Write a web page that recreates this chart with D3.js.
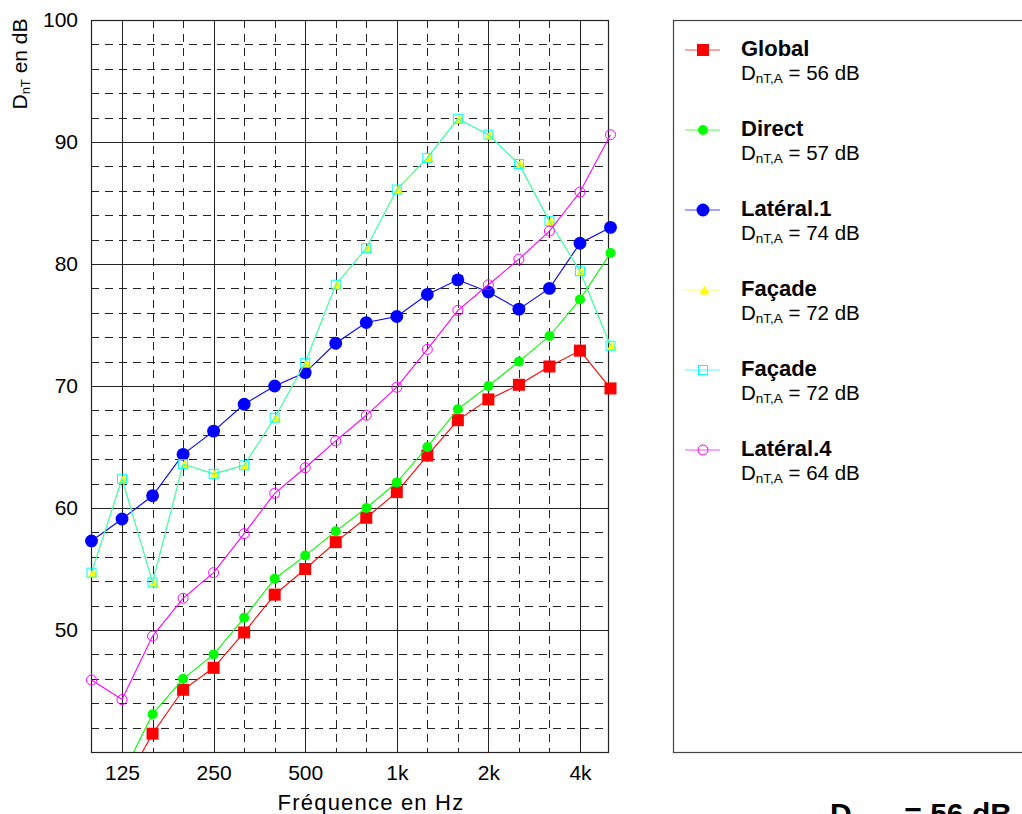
<!DOCTYPE html>
<html>
<head>
<meta charset="utf-8">
<script src="https://cdn.jsdelivr.net/npm/d3@7"></script>
<style>
    body { margin: 0; background: #fff; }
    svg { display: block; font-family: "Liberation Sans", Arial, sans-serif; }
</style>
</head>
<body>
<div id="chart"></div>
<script>
const width = 1022,
    height = 814
const margin = {
    top: 20,
    right: 414,
    bottom: 62,
    left: 91
}

// bandes de tiers d'octave
const frequencies = [100, 125, 160, 200, 250, 315, 400, 500, 630, 800, 1000, 1250, 1600, 2000, 2500, 3150, 4000, 5000]
const octaveTicks = [125, 250, 500, 1000, 2000, 4000]
const octaveLabels = ['125', '250', '500', '1k', '2k', '4k']
const dbTicks = [50, 60, 70, 80, 90, 100]

const globalValues = [34.0, 37.0, 41.5, 45.1, 46.9, 49.8, 52.9, 55.0, 57.2, 59.2, 61.3, 64.3, 67.2, 68.9, 70.1, 71.6, 72.9, 69.8]
const directValues = [35.0, 38.1, 43.1, 46.0, 48.0, 51.0, 54.2, 56.1, 58.1, 60.0, 62.1, 65.0, 68.1, 70.0, 72.0, 74.1, 77.1, 80.9]
const lateral1Values = [57.3, 59.1, 61.0, 64.4, 66.3, 68.5, 70.0, 71.1, 73.5, 75.2, 75.7, 77.5, 78.7, 77.7, 76.3, 78.0, 81.7, 83.0]
const facadeValues = [54.7, 62.4, 53.9, 63.6, 62.8, 63.5, 67.4, 71.9, 78.3, 81.3, 86.1, 88.7, 91.9, 90.6, 88.2, 83.5, 79.4, 73.3]
const lateral4Values = [45.9, 44.3, 49.5, 52.6, 54.7, 57.9, 61.2, 63.3, 65.5, 67.6, 69.9, 73.0, 76.2, 78.3, 80.4, 82.7, 85.9, 90.6]

const seriesNames = ['Global', 'Direct', 'Latéral.1', 'Façade', 'Façade', 'Latéral.4']
const seriesDnTA = [56, 57, 74, 72, 72, 64]
const seriesColors = ['#ff0000', '#00ff00', '#0000ff', '#ffff00', '#00ffff', '#ff00ff']
const seriesValues = [globalValues, directValues, lateral1Values, facadeValues, facadeValues, lateral4Values]
const globalDnTA = 56

/**
 * initialisation
 */
const svg = d3.select('#chart')
    .append('svg')
    .attr('width', width)
    .attr('height', height)

const plotRight = 608
const axisX = d3.scalePoint()
    .domain(frequencies)
    .range([margin.left + 0.5, 610.5])

const axisY = d3.scaleLinear()
    .domain([40, 100])
    .range([height - margin.bottom, margin.top])

svg.append('clipPath').attr('id', 'plotClip')
    .append('rect')
    .attr('x', 0)
    .attr('y', margin.top)
    .attr('width', 660)
    .attr('height', axisY(40) - margin.top)

/**
 * grille
 */
const grid = svg.append('g')
    .attr('stroke', '#222')
    .attr('stroke-width', 1)

grid.selectAll('line.h')
    .data(d3.range(42, 100, 2))
    .enter().append('line')
    .attr('x1', margin.left)
    .attr('x2', plotRight)
    .attr('y1', d => Math.round(axisY(d)) + 0.5)
    .attr('y2', d => Math.round(axisY(d)) + 0.5)
    .attr('stroke-dasharray', d => d % 10 === 0 ? null : '8,6')

grid.selectAll('line.v')
    .data(frequencies.slice(1, -1))
    .enter().append('line')
    .attr('x1', d => Math.round(axisX(d)) + 0.5)
    .attr('x2', d => Math.round(axisX(d)) + 0.5)
    .attr('y1', margin.top)
    .attr('y2', axisY(40))
    .attr('stroke-dasharray', d => octaveTicks.includes(d) ? null : '8,6')

svg.append('rect')
    .attr('x', margin.left + 0.5)
    .attr('y', margin.top + 0.5)
    .attr('width', plotRight - margin.left)
    .attr('height', axisY(40) - margin.top)
    .attr('fill', 'none')
    .attr('stroke', '#222')
    .attr('stroke-width', 1.2)

/**
 * axes
 */
svg.append('g')
    .attr('transform', 'translate(' + margin.left + ',0)')
    .call(d3.axisLeft(axisY).tickValues(dbTicks).tickSize(0).tickPadding(13))
    .call(g => g.select('.domain').remove())
    .selectAll('text')
    .attr('font-size', 21)
    .attr('font-family', '"Liberation Sans", Arial, sans-serif')
    .attr('fill', '#000')

svg.append('g')
    .attr('transform', 'translate(0,' + axisY(40) + ')')
    .call(d3.axisBottom(axisX).tickValues(octaveTicks).tickSize(0).tickPadding(13)
        .tickFormat((d, i) => octaveLabels[i]))
    .call(g => g.select('.domain').remove())
    .selectAll('text')
    .attr('font-size', 21)
    .attr('font-family', '"Liberation Sans", Arial, sans-serif')
    .attr('fill', '#000')

svg.append('text')
    .attr('x', 371)
    .attr('y', 810)
    .attr('text-anchor', 'middle')
    .attr('font-size', 22)
    .attr('letter-spacing', 1.2)
    .text('Fréquence en Hz')

const yLabel = svg.append('text')
    .attr('transform', 'translate(27,64) rotate(-90)')
    .attr('text-anchor', 'middle')
    .attr('font-size', 21)
yLabel.append('tspan').text('D')
yLabel.append('tspan').attr('font-size', 13).attr('dy', 3).text('nT')
yLabel.append('tspan').attr('dy', -3).text(' en dB')

/**
 * marqueurs
 */
function drawMarker(sel, idx) {
    if (idx === 0) {
        sel.append('rect').attr('x', -6).attr('y', -6).attr('width', 12).attr('height', 12)
            .attr('fill', '#ff0000')
    } else if (idx === 1) {
        sel.append('circle').attr('r', 5).attr('fill', '#00ff00')
    } else if (idx === 2) {
        sel.append('path').attr('d', d3.symbol(d3.symbolCircle, 130)).attr('fill', '#0000ff')
    } else if (idx === 3) {
        sel.append('path').attr('d', 'M1.5,-4.5L6.5,4.5L-3.5,4.5Z').attr('fill', '#ffff00')
    } else if (idx === 4) {
        sel.append('rect').attr('x', -4.5).attr('y', -4.5).attr('width', 9).attr('height', 9)
            .attr('fill', 'none').attr('stroke', '#00ffff').attr('stroke-width', 1)
    } else {
        sel.append('circle').attr('r', 5).attr('fill', 'none')
            .attr('stroke', '#ff00ff').attr('stroke-width', 1)
    }
}

/**
 * courbes
 */
const line = d3.line()
    .x((d, i) => axisX(frequencies[i]))
    .y(d => axisY(d))

const curves = svg.append('g').attr('clip-path', 'url(#plotClip)')

seriesValues.forEach(function (values, idx) {
    const g = curves.append('g')
    g.append('path')
        .datum(values)
        .attr('d', line)
        .attr('fill', 'none')
        .attr('stroke', seriesColors[idx])
        .attr('stroke-width', 1.1)
        .attr('stroke-opacity', idx === 4 ? 0.82 : 1)
    g.selectAll('g.mk')
        .data(values)
        .enter().append('g')
        .attr('transform', (d, i) => 'translate(' + axisX(frequencies[i]) + ',' + axisY(d) + ')')
        .each(function () { drawMarker(d3.select(this), idx) })
})

/**
 * légende
 */
svg.append('rect')
    .attr('x', 673.5)
    .attr('y', margin.top + 0.5)
    .attr('width', 420)
    .attr('height', axisY(40) - margin.top)
    .attr('fill', 'none')
    .attr('stroke', '#444')
    .attr('stroke-width', 1.2)

const legend = svg.append('g')
    .selectAll('g')
    .data(seriesNames)
    .enter().append('g')
    .attr('transform', (d, i) => 'translate(685,' + (50 + i * 80) + ')')

legend.append('line')
    .attr('x1', 0).attr('x2', 35)
    .attr('stroke', (d, i) => seriesColors[i])
    .attr('stroke-opacity', 0.7)
    .attr('stroke-width', 1.2)

legend.append('g')
    .attr('transform', 'translate(18,0)')
    .each(function (d, i) { drawMarker(d3.select(this), i) })

legend.append('text')
    .attr('x', 56)
    .attr('y', 6)
    .attr('font-size', 22)
    .attr('font-weight', 'bold')
    .text(d => d)

const legendValue = legend.append('text')
    .attr('x', 56)
    .attr('y', 30)
    .attr('font-size', 20.5)
legendValue.append('tspan').text('D')
legendValue.append('tspan').attr('font-size', 13.5).attr('dy', 3).text('nT,A')
legendValue.append('tspan').attr('dy', -3).text((d, i) => ' = ' + seriesDnTA[i] + ' dB')

const total = svg.append('text')
    .attr('x', 830)
    .attr('y', 824)
    .attr('font-size', 30)
    .attr('font-weight', 'bold')
total.append('tspan').text('D')
total.append('tspan').attr('font-size', 21).attr('dy', 5).text('nT,A')
total.append('tspan').attr('dy', -5).text(' = ' + globalDnTA + ' dB')
</script>
</body>
</html>
